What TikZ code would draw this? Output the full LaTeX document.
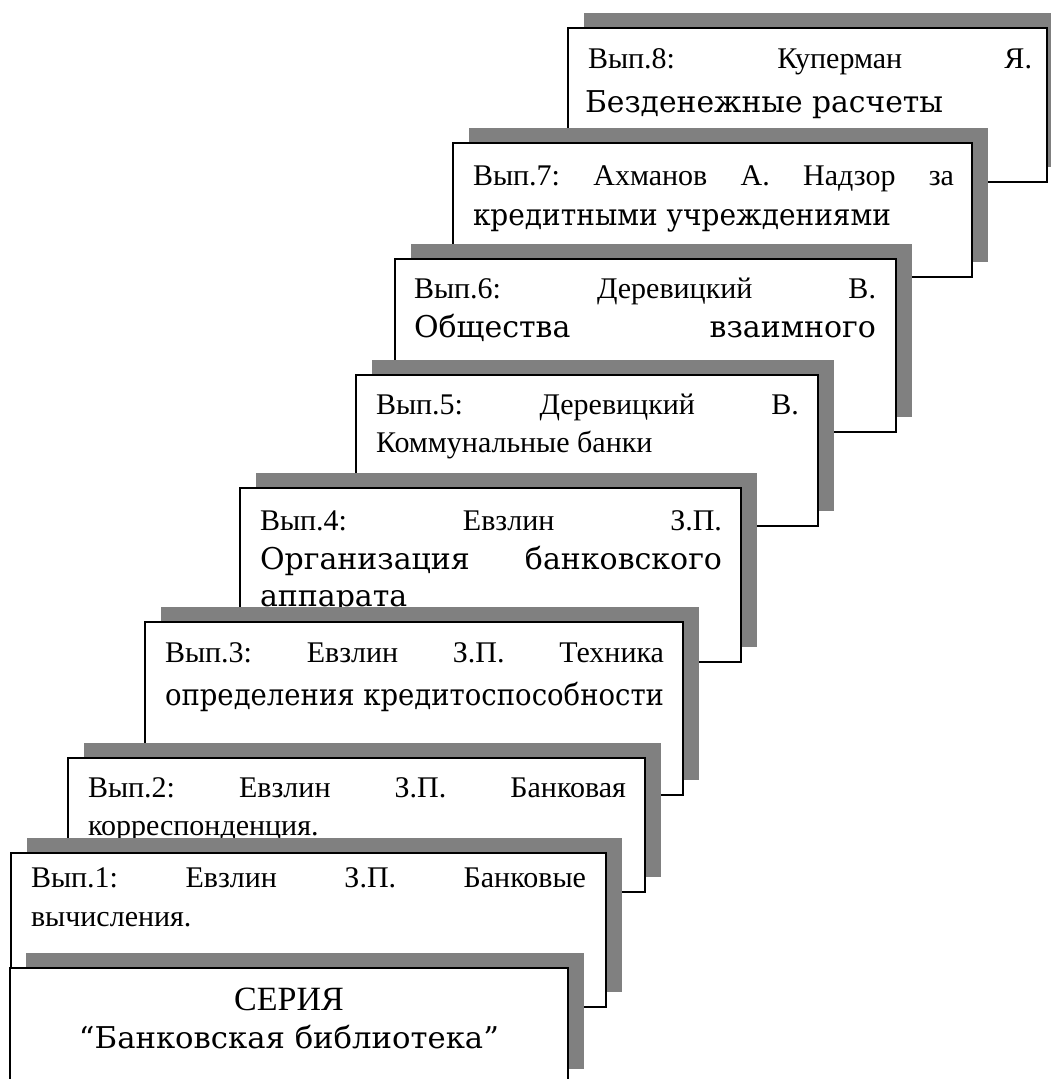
\documentclass[tikz,border=0pt]{standalone}
\usepackage{graphicx}
\usepackage{fontspec}
\setmainfont{Liberation Serif}
\newfontfamily\widefont{DejaVu Serif}
\usetikzlibrary{shadows}
\definecolor{sgray}{RGB}{128,128,128}
\tikzset{
  card/.style={draw=black, line width=1.8pt, fill=white, inner sep=0pt, outer sep=0pt,
    anchor=north west,
    drop shadow={shadow xshift=16pt, shadow yshift=15pt, fill=sgray, opacity=1}},
  txt/.style={inner sep=0pt, outer sep=0pt, anchor=base west,
    font=\fontsize{30pt}{36pt}\selectfont},
}
\begin{document}
\begin{tikzpicture}[x=1pt, y=-1pt]
\useasboundingbox (0,0) rectangle (1051,1079);
\clip (0,0) rectangle (1051,1079);
% box 8
\node[card, minimum width=479pt, minimum height=154pt] (b8) at (568,28) {};
\node[txt] (t8a) at (588,68) {\hbox to 444pt{Вып.8:\hfill Куперман\hfill Я.}};
\node[txt] (t8b) at (585,112) {\resizebox{358pt}{\height}{\widefont Безденежные расчеты}};
% box 7
\node[card, minimum width=519pt, minimum height=134pt] (b7) at (453,143) {};
\node[txt] (t7a) at (473,185) {\hbox to 481pt{Вып.7:\hfill Ахманов\hfill А.\hfill Надзор\hfill за}};
\node[txt] (t7b) at (473,225) {\resizebox{418pt}{\height}{\widefont кредитными учреждениями}};
% box 6
\node[card, minimum width=501pt, minimum height=173pt] (b6) at (395,259) {};
\node[txt] (t6a) at (414,298) {\hbox to 462pt{Вып.6:\hfill Деревицкий\hfill В.}};
\node[txt] (t6b) at (414,337) {\hbox to 462pt{\widefont Общества\hfill взаимного}};
% box 5
\node[card, minimum width=462pt, minimum height=151pt] (b5) at (356,375) {};
\node[txt] (t5a) at (376,414) {\hbox to 423pt{Вып.5:\hfill Деревицкий\hfill В.}};
\node[txt] (t5b) at (376,452) {Коммунальные банки};
% box 4
\node[card, minimum width=501pt, minimum height=174pt] (b4) at (240,488) {};
\node[txt] (t4a) at (260,530) {\hbox to 462pt{Вып.4:\hfill Евзлин\hfill З.П.}};
\node[txt] (t4b) at (260,569) {\hbox to 462pt{\widefont Организация\hfill банковского}};
\node[txt] (t4c) at (260,606) {\widefont аппарата};
% box 3
\node[card, minimum width=538pt, minimum height=173pt] (b3) at (145,622) {};
\node[txt] (t3a) at (165,662) {\hbox to 499pt{Вып.3:\hfill Евзлин\hfill З.П.\hfill Техника}};
\node[txt] (t3b) at (165,705) {\resizebox{499pt}{\height}{\widefont определения кредитоспособности}};
% box 2
\node[card, minimum width=577pt, minimum height=134pt] (b2) at (68,758) {};
\node[txt] (t2a) at (88,797) {\hbox to 538pt{Вып.2:\hfill Евзлин\hfill З.П.\hfill Банковая}};
\node[txt] (t2b) at (88,835) {корреспонденция.};
% box 1
\node[card, minimum width=595pt, minimum height=154pt] (b1) at (11,853) {};
\node[txt] (t1a) at (31,887) {\hbox to 555pt{Вып.1:\hfill Евзлин\hfill З.П.\hfill Банковые}};
\node[txt] (t1b) at (31,926) {вычисления.};
% series box
\node[card, minimum width=558pt, minimum height=116pt] (b0) at (10,968) {};
\node[txt, anchor=base, font=\fontsize{34pt}{40pt}\selectfont] (t0a) at (289,1010) {СЕРИЯ};
\node[txt, anchor=base] (t0b) at (289,1048) {\resizebox{420pt}{\height}{\widefont “Банковская библиотека”}};
\end{tikzpicture}
\end{document}
